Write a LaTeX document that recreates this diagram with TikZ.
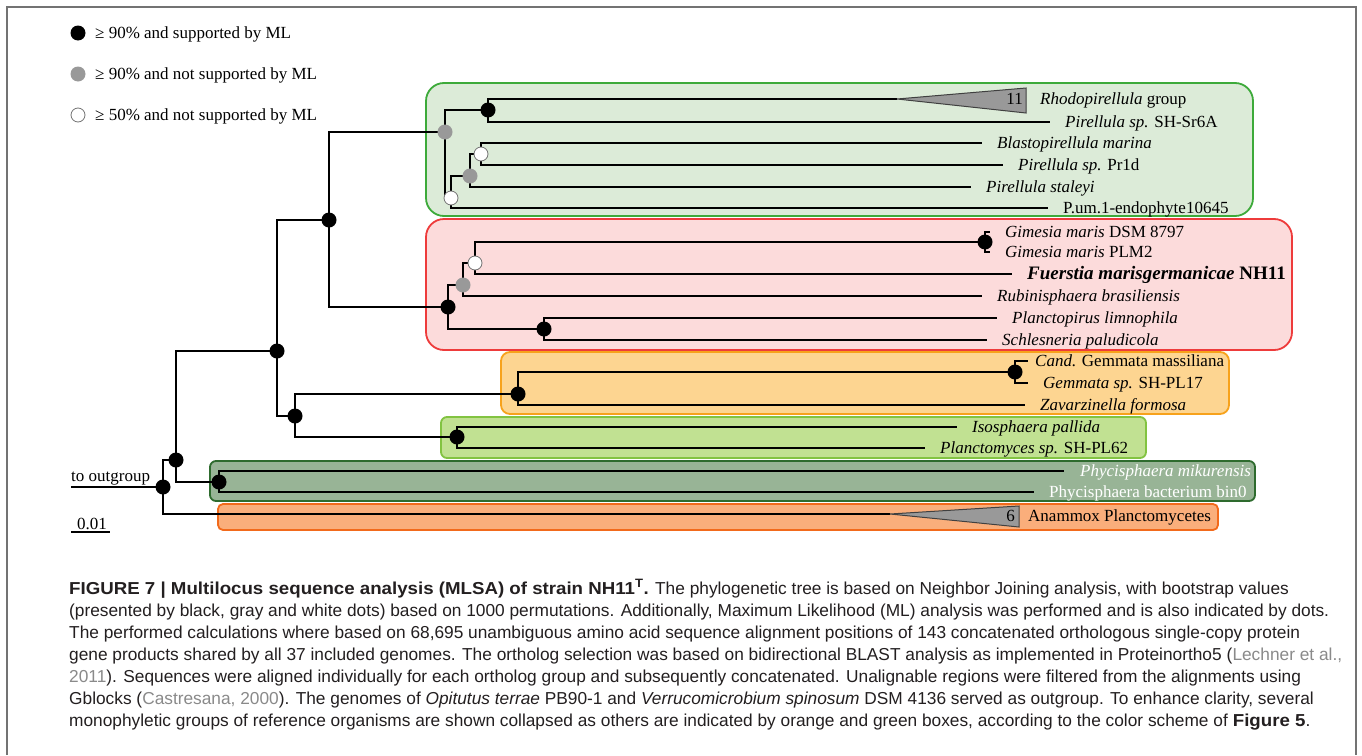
\documentclass[tikz,border=0pt]{standalone}
\usepackage{fontspec}
\setmainfont{Liberation Serif}
\newfontfamily\capfont[BoldFeatures={FakeStretch=1.08}]{Liberation Sans}

\definecolor{pirfill}{HTML}{DCEBD8}
\definecolor{pirdraw}{HTML}{3DAA3A}
\definecolor{gemfill}{HTML}{FCDBDB}
\definecolor{gemdraw}{HTML}{EE3B3B}
\definecolor{gmafill}{HTML}{FDD591}
\definecolor{gmadraw}{HTML}{F7A21B}
\definecolor{isofill}{HTML}{C1E192}
\definecolor{isodraw}{HTML}{82C341}
\definecolor{phyfill}{HTML}{98B496}
\definecolor{phydraw}{HTML}{2E6B2E}
\definecolor{anafill}{HTML}{FAAE7B}
\definecolor{anadraw}{HTML}{F26A1B}
\definecolor{capgray}{HTML}{8A8A8A}
\definecolor{captext}{HTML}{231F20}

\begin{document}
\begin{tikzpicture}[x=1pt,y=-1pt,
  branch/.style={draw=black,line width=2pt},
  clade/.style={line width=1.8pt,rounded corners=#1},
  bdot/.style={circle,fill=black,inner sep=0pt,minimum size=15pt},
  gdot/.style={circle,fill=black!40,inner sep=0pt,minimum size=15pt},
  wdot/.style={circle,fill=white,draw=black!55,line width=0.8pt,inner sep=0pt,minimum size=14pt},
  taxon/.style={anchor=base west,inner sep=0pt,font=\fontsize{17}{19}\selectfont},
  collapsed/.style={fill=black!40,draw=black!75,line width=1pt},
  capline/.style={anchor=base west,inner sep=0pt,text=captext,font=\capfont\fontsize{17.3}{22}\selectfont},
]
\useasboundingbox (0,0) rectangle (1362,755);
\fill[white] (0,0) rectangle (1362,755);
\draw[black!55,line width=1.5pt] (7,755) -- (7,7) -- (1356,7) -- (1356,755);

% legend
\node[bdot] (lblack) at (78,33) {};
\node[gdot] (lgray) at (78,74) {};
\node[wdot] (lwhite) at (78,115) {};
\node[taxon] (lblack-t) at (95,38.5) {≥ 90\% and supported by ML};
\node[taxon] (lgray-t) at (95,79.5) {≥ 90\% and not supported by ML};
\node[taxon] (lwhite-t) at (95,120.5) {≥ 50\% and not supported by ML};

% coloured clades
\filldraw[clade=18pt,fill=pirfill,draw=pirdraw] (426,83) rectangle (1253,216);
\filldraw[clade=18pt,fill=gemfill,draw=gemdraw] (426,219) rectangle (1292,350);
\filldraw[clade=9pt,fill=gmafill,draw=gmadraw] (501,352) rectangle (1229,414);
\filldraw[clade=6pt,fill=isofill,draw=isodraw] (441,417) rectangle (1146,458);
\filldraw[clade=6pt,fill=phyfill,draw=phydraw] (210,461) rectangle (1255,501);
\filldraw[clade=5pt,fill=anafill,draw=anadraw] (218,504) rectangle (1218,530);

% inner nodes
\coordinate (tOut) at (71,487);
\coordinate (root) at (163,487);
\coordinate (nA) at (176,460);
\coordinate (nB) at (277,351);
\coordinate (nC) at (329,220);
\coordinate (nD) at (295,416);
\coordinate (nPir) at (445,132);
\coordinate (nRho) at (488,110);
\coordinate (nW1) at (451,198);
\coordinate (nG1) at (470,176);
\coordinate (nW2) at (481,154);
\coordinate (nRed) at (448,307);
\coordinate (nG2) at (463,285);
\coordinate (nW3) at (475,263);
\coordinate (nGim) at (985,242);
\coordinate (nPla) at (544,329);
\coordinate (nOra) at (518,394);
\coordinate (nGem) at (1015,372);
\coordinate (nIso) at (457,437);
\coordinate (nPhy) at (219,482);
\coordinate (tRho) at (897,99);
\coordinate (tAna) at (890,514);

\draw[branch] (tOut) -- (root);
\foreach \up/\down in {root/nA,root/tAna,nA/nB,nA/nPhy,nB/nC,nB/nD,nC/nPir,nC/nRed,
  nD/nOra,nD/nIso,nPir/nRho,nPir/nW1,nW1/nG1,nG1/nW2,nRho/tRho,nRed/nG2,nRed/nPla,
  nG2/nW3,nW3/nGim,nOra/nGem}
  \draw[branch] (\up) |- (\down);

% tips
\foreach \tip/\up/\x/\y/\dx/\txt in {
  tSH/nRho/1050/122/15/{\textit{Pirellula sp.} SH-Sr6A},
  tBla/nW2/982/143/15/{\textit{Blastopirellula marina}},
  tPr1/nW2/1003/165/15/{\textit{Pirellula sp.} Pr1d},
  tSta/nG1/971/187/15/{\textit{Pirellula staleyi}},
  tPum/nW1/1048/208/15/{P.um.1-endophyte10645},
  tGim1/nGim/990/232/15/{\textit{Gimesia maris} DSM 8797},
  tGim2/nGim/990/252/15/{\textit{Gimesia maris} PLM2},
  tFue/nW3/1012/274/15/{\fontsize{19}{21}\selectfont\textbf{\textit{Fuerstia marisgermanicae} NH11}},
  tRub/nG2/982/296/15/{\textit{Rubinisphaera brasiliensis}},
  tPlm/nPla/997/318/15/{\textit{Planctopirus limnophila}},
  tSch/nPla/987/340/15/{\textit{Schlesneria paludicola}},
  tCan/nGem/1028/361/7/{\textit{Cand.} Gemmata massiliana},
  tGsp/nGem/1028/383/15/{\textit{Gemmata sp.} SH-PL17},
  tZav/nOra/1025/405/15/{\textit{Zavarzinella formosa}},
  tIso/nIso/957/427/15/{\textit{Isosphaera pallida}},
  tPlc/nIso/925/448/15/{\textit{Planctomyces sp.} SH-PL62},
  tMik/nPhy/1064/471/16/{\color{white}\textit{Phycisphaera mikurensis}},
  tBin/nPhy/1034/492/15/{\color{white}Phycisphaera bacterium bin0}}
{
  \coordinate (\tip) at (\x,\y);
  \draw[branch] (\up) |- (\tip);
  \node[taxon] (\tip-l) at (\x+\dx,\y+5.5) {\txt};
}

% collapsed groups
\draw[collapsed] (tRho) -- (1026,88) -- (1026,113) -- cycle;
\node[taxon,anchor=base east] (rho-n) at (1023,104.5) {11};
\node[taxon] (rho-l) at (1040,104.5) {\textit{Rhodopirellula} group};
\draw[collapsed] (tAna) -- (1019,506) -- (1019,527) -- cycle;
\node[taxon,anchor=base east] (ana-n) at (1015,521.5) {6};
\node[taxon] (ana-l) at (1028,521.5) {Anammox Planctomycetes};

% support dots
\foreach \n in {root,nA,nB,nC,nD,nRho,nRed,nGim,nPla,nOra,nGem,nIso,nPhy}
  \node[bdot] (d\n) at (\n) {};
\foreach \n in {nPir,nG1,nG2}
  \node[gdot] (d\n) at (\n) {};
\foreach \n in {nW1,nW2,nW3}
  \node[wdot] (d\n) at (\n) {};

% outgroup and scale
\node[taxon] (outlab) at (71,481) {to outgroup};
\coordinate (sc0) at (71,532);
\coordinate (sc1) at (110,532);
\draw[branch] (sc0) -- (sc1);
\node[taxon] (sclab) at (77,529) {0.01};

% caption
\node[capline] (cap1) at (69,594) {\textbf{FIGURE 7 | Multilocus sequence analysis (MLSA) of strain NH11\textsuperscript{T}.} The phylogenetic tree is based on Neighbor Joining analysis, with bootstrap values};
\node[capline] (cap2) at (69,616) {(presented by black, gray and white dots) based on 1000 permutations. Additionally, Maximum Likelihood (ML) analysis was performed and is also indicated by dots.};
\node[capline] (cap3) at (69,638) {The performed calculations where based on 68,695 unambiguous amino acid sequence alignment positions of 143 concatenated orthologous single-copy protein};
\node[capline] (cap4) at (69,660) {gene products shared by all 37 included genomes. The ortholog selection was based on bidirectional BLAST analysis as implemented in Proteinortho5 (\textcolor{capgray}{Lechner et al.,}};
\node[capline] (cap5) at (69,682) {\textcolor{capgray}{2011}). Sequences were aligned individually for each ortholog group and subsequently concatenated. Unalignable regions were filtered from the alignments using};
\node[capline] (cap6) at (69,704) {Gblocks (\textcolor{capgray}{Castresana, 2000}). The genomes of \textit{Opitutus terrae} PB90-1 and \textit{Verrucomicrobium spinosum} DSM 4136 served as outgroup. To enhance clarity, several};
\node[capline] (cap7) at (69,726) {monophyletic groups of reference organisms are shown collapsed as others are indicated by orange and green boxes, according to the color scheme of \textbf{Figure 5}.};
\end{tikzpicture}
\end{document}
